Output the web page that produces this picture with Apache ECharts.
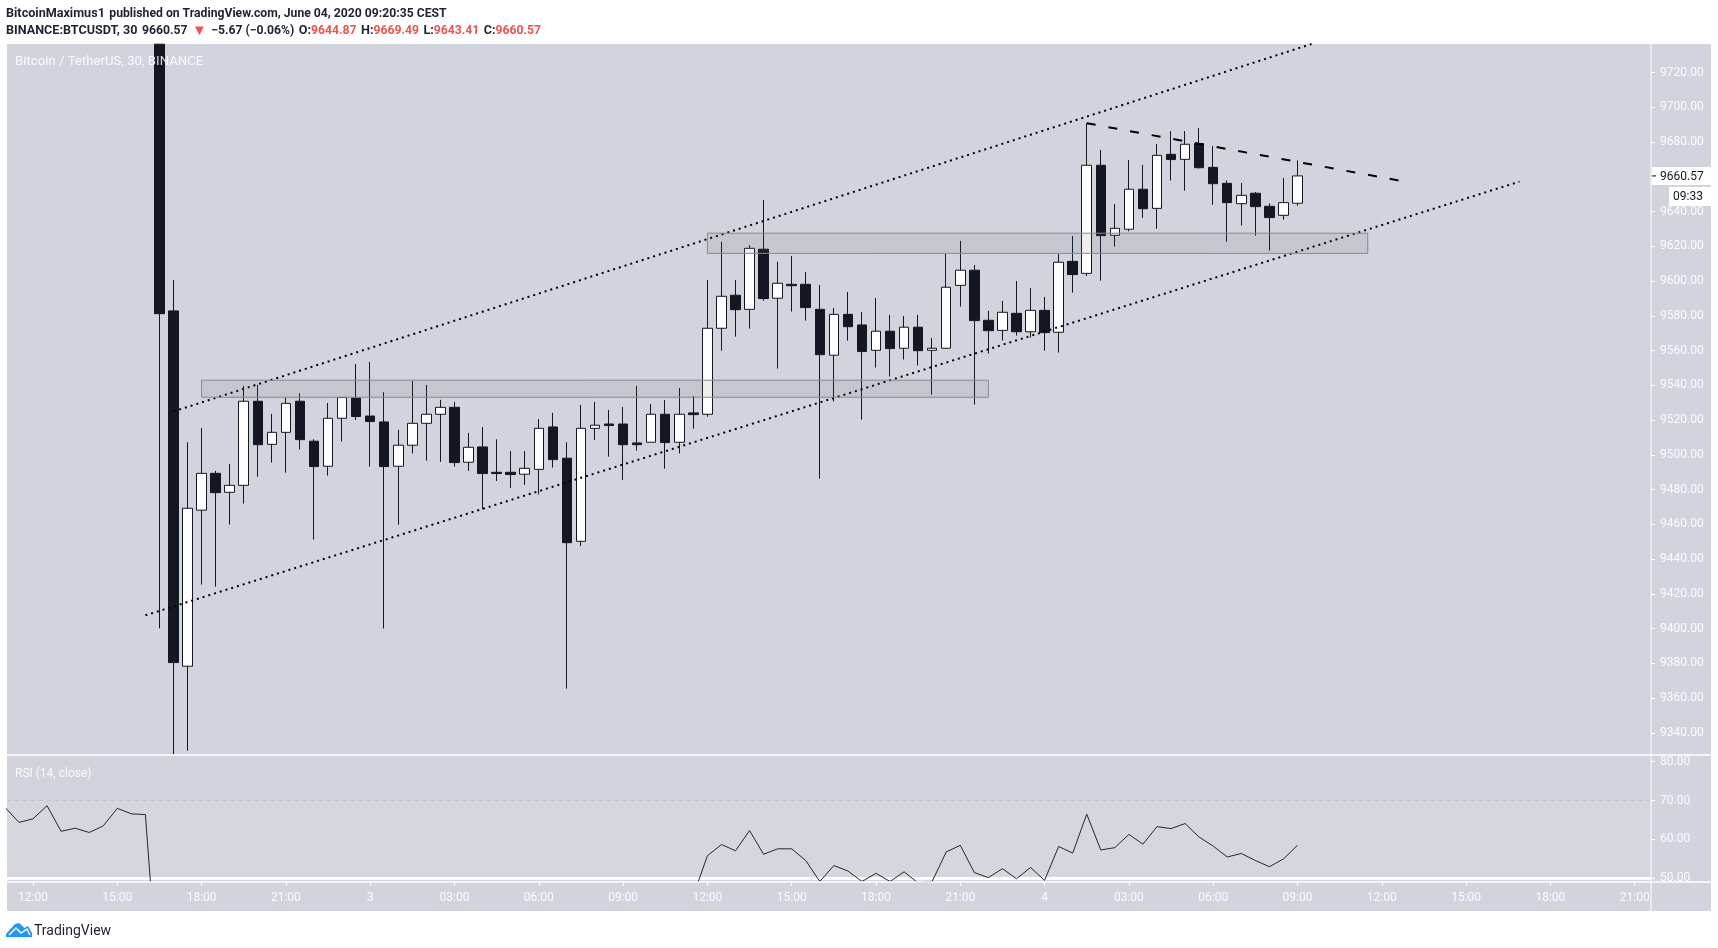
<!DOCTYPE html>
<html>
<head>
<meta charset="utf-8">
<style>
  html, body { margin: 0; padding: 0; background: #fff; }
  #main { width: 1718px; height: 948px; }
</style>
<script src="https://cdn.jsdelivr.net/npm/echarts@6/dist/echarts.min.js"></script>
</head>
<body>
<div id="main"></div>
<script>
// bars are counted in 30 min steps from Jun 2 12:00 (bar 0)
var firstCandleBar = 9;
// first candle runs off the top of the pane, second one off the bottom
var opens = [9736.4, 9582.9, 9378.4, 9468.2, 9489.4, 9478.5, 9482.5, 9530.9, 9506.1, 9513.0, 9530.9, 9507.9, 9493.5, 9521.1, 9532.8, 9522.4, 9519.0, 9493.5, 9505.6, 9518.2, 9523.4, 9527.4, 9495.8, 9504.6, 9490.0, 9490.0, 9488.9, 9491.7, 9516.1, 9498.1, 9450.3, 9515.3, 9517.8, 9517.8, 9506.9, 9507.3, 9523.4, 9507.3, 9524.2, 9523.4, 9572.9, 9591.9, 9583.8, 9618.4, 9590.2, 9598.2, 9598.2, 9583.8, 9557.4, 9580.9, 9574.8, 9560.2, 9571.2, 9561.4, 9573.5, 9560.2, 9561.4, 9597.6, 9606.3, 9577.5, 9571.7, 9581.5, 9570.9, 9583.2, 9570.6, 9611.4, 9604.5, 9666.7, 9626.4, 9629.9, 9652.9, 9641.9, 9673.0, 9670.1, 9679.2, 9665.5, 9656.3, 9644.6, 9650.6, 9643.1, 9637.9, 9644.87];
var closes = [9581.3, 9380.5, 9469.3, 9489.4, 9478.3, 9482.5, 9530.9, 9505.9, 9513.0, 9529.7, 9508.8, 9493.3, 9521.1, 9533.0, 9522.1, 9519.2, 9493.3, 9505.6, 9518.2, 9523.4, 9527.4, 9495.6, 9504.4, 9489.3, 9489.3, 9488.7, 9492.3, 9515.3, 9497.3, 9449.5, 9515.3, 9517.1, 9516.9, 9505.9, 9505.9, 9523.4, 9507.1, 9523.4, 9523.2, 9572.9, 9591.3, 9583.6, 9618.9, 9590.0, 9598.8, 9597.4, 9584.8, 9557.7, 9580.9, 9573.8, 9559.5, 9571.2, 9561.2, 9573.5, 9560.0, 9561.4, 9596.5, 9606.3, 9577.3, 9571.5, 9582.1, 9570.9, 9583.2, 9570.4, 9610.9, 9603.8, 9666.7, 9626.2, 9630.4, 9652.9, 9641.7, 9672.4, 9670.0, 9678.8, 9665.3, 9656.1, 9645.2, 9649.4, 9642.9, 9636.6, 9645.2, 9660.57];
var lows = [9400.2, 9327.6, 9329.8, 9425.4, 9424.2, 9459.9, 9472.0, 9487.5, 9495.6, 9489.8, 9503.1, 9451.3, 9488.1, 9507.7, 9520.1, 9493.3, 9400.1, 9459.9, 9500.8, 9496.7, 9496.0, 9493.3, 9490.8, 9468.7, 9485.0, 9481.0, 9482.7, 9477.2, 9492.7, 9365.5, 9447.6, 9508.6, 9499.0, 9485.6, 9502.5, 9507.3, 9492.1, 9500.8, 9515.1, 9522.0, 9560.0, 9568.1, 9572.7, 9588.8, 9549.7, 9582.5, 9577.3, 9486.4, 9530.7, 9565.8, 9520.3, 9550.3, 9545.1, 9554.9, 9551.4, 9534.7, 9561.2, 9585.4, 9529.0, 9558.3, 9565.8, 9568.7, 9567.5, 9560.0, 9558.9, 9593.4, 9603.0, 9600.3, 9619.9, 9628.7, 9636.4, 9630.2, 9657.9, 9652.1, 9664.8, 9644.0, 9622.7, 9632.0, 9626.2, 9617.6, 9635.4, 9643.41];
var highs = [9736.4, 9600.7, 9507.3, 9515.5, 9490.8, 9494.8, 9539.7, 9540.3, 9523.6, 9533.2, 9535.5, 9509.0, 9529.9, 9533.2, 9552.4, 9553.5, 9536.1, 9514.4, 9542.6, 9540.3, 9531.7, 9530.5, 9512.7, 9516.1, 9509.0, 9502.3, 9502.3, 9520.7, 9524.2, 9507.3, 9528.8, 9530.5, 9525.9, 9527.6, 9539.7, 9529.3, 9531.6, 9538.5, 9533.9, 9600.7, 9622.6, 9600.7, 9620.7, 9646.7, 9611.1, 9614.5, 9605.3, 9597.8, 9584.6, 9593.8, 9582.3, 9590.3, 9580.6, 9580.0, 9580.6, 9567.3, 9615.7, 9623.2, 9609.3, 9582.9, 9588.6, 9600.1, 9596.1, 9590.9, 9615.7, 9626.0, 9690.9, 9675.5, 9644.4, 9669.8, 9666.9, 9679.0, 9686.4, 9686.4, 9688.2, 9677.8, 9658.0, 9656.5, 9651.3, 9644.8, 9659.4, 9669.49];

var firstRsiBar = -2;
// null where the line is below the bottom of the pane and cannot be read
var rsiValues = [68.3, 64.4, 65.3, 68.7, 62.1, 62.9, 61.8, 63.5, 68.0, 66.6, 66.4, 18,
  null, null, null, null, null, null, null, null, null, null, null, null, null, null, null, null, null, null, null,
  null, null, null, null, null, null, null, null, null, null, null, null, null, null, null, null, null, null,
  45.6, 55.8, 58.7, 57.1, 62.3, 56.2, 57.6, 57.6, 54.6, 49.2, 53.3, 51.9, 49.2, 51.3, 49.2, 51.7, 48.8, 49.25, 56.8, 58.5, 51.5, 50.2, 52.5, 49.9, 52.8, 49.5, 58.2, 56.5, 66.5, 57.3, 57.9, 61.3, 58.8, 63.3, 62.8, 64.1, 60.6, 58.3, 55.5, 56.4, 54.6, 53.0, 55.0, 58.5];

var timeTickBars = [0, 6, 12, 18, 24, 30, 36, 42, 48, 54, 60, 66, 72, 78, 84, 90, 96, 102, 108, 114];
var timeTickLabels = ['12:00', '15:00', '18:00', '21:00', '3', '03:00', '06:00', '09:00', '12:00', '15:00', '18:00', '21:00', '4', '03:00', '06:00', '09:00', '12:00', '15:00', '18:00', '21:00'];
var priceTicks = [9340, 9360, 9380, 9400, 9420, 9440, 9460, 9480, 9500, 9520, 9540, 9560, 9580, 9600, 9620, 9640, 9660, 9680, 9700, 9720];
var rsiTicks = [50, 60, 70, 80];

// trend lines and zones drawn on the chart
var upperChannelBars = [10, 91];
var upperChannelPrices = [9525, 9736.5];
var lowerChannelBars = [8, 105.8];
var lowerChannelPrices = [9407.7, 9657.3];
var resistanceBars = [75, 97.25];
var resistancePrices = [9690.9, 9657.9];
var lowerZoneBars = [12, 68];
var lowerZonePrices = [9533.2, 9543];
var upperZoneBars = [48, 95];
var upperZonePrices = [9616, 9627.6];

var lastPrice = 9660.57;
var countdown = '09:33';

var DARK = '#131722';
var PANE = '#d1d4dc';
var AXIS_TEXT = '#fbfbfd';
var FONT = 'Roboto, "Liberation Sans", Arial, sans-serif';

function pairs(xs, ys) {
  return xs.map(function (x, i) { return [x, ys[i]]; });
}

var candleData = opens.map(function (o, i) {
  return [firstCandleBar + i, o, closes[i], lows[i], highs[i]];
});
var rsiData = rsiValues.map(function (v, i) {
  return [firstRsiBar + i, v];
});

function trendLine(bars, prices, width, dash) {
  return {
    type: 'line',
    xAxisIndex: 0,
    yAxisIndex: 0,
    data: pairs(bars, prices),
    showSymbol: false,
    silent: true,
    z: 6,
    lineStyle: { color: '#000', width: width, type: dash }
  };
}

function zoneArea(bars, prices) {
  return [{ xAxis: bars[0], yAxis: prices[0] }, { xAxis: bars[1], yAxis: prices[1] }];
}

var xAxisBase = {
  type: 'value',
  min: -1.85,
  max: 115.16,
  splitLine: { show: false }
};

var headerRich = {
  b: { fontFamily: FONT, fontWeight: 'bold', fontSize: 12.6, color: '#1d2330' },
  n: { fontFamily: FONT, fontSize: 12.2, color: '#1d2330' },
  r: { fontFamily: FONT, fontSize: 12.2, color: '#ef5350' },
  t: { fontFamily: FONT, fontSize: 15, color: '#ef5350' }
};

var option = {
  animation: false,
  textStyle: { fontFamily: FONT },
  title: [
    {
      left: 6, top: 5, padding: 0, itemGap: 0,
      text: '{b|BitcoinMaximus1} {n|published on TradingView.com, June 04, 2020 09:20:35 CEST}',
      textStyle: { rich: headerRich }
    },
    {
      left: 6, top: 22, padding: 0, itemGap: 0,
      text: '{b|BINANCE:BTCUSDT, 30} {n|9660.57} {t|▼} {n|−5.67 (−0.06%)} {b|O:}{r|9644.87} {b|H:}{r|9669.49} {b|L:}{r|9643.41} {b|C:}{r|9660.57}',
      textStyle: { rich: headerRich }
    }
  ],
  grid: [
    { left: 7, top: 44, width: 1644, height: 711 },
    { left: 7, top: 755, width: 1644, height: 127 }
  ],
  xAxis: [
    Object.assign({}, xAxisBase, {
      gridIndex: 0,
      axisLine: { show: false, onZero: false },
      axisTick: { show: false },
      axisLabel: { show: false }
    }),
    Object.assign({}, xAxisBase, {
      gridIndex: 1,
      position: 'bottom',
      axisLine: { show: false, onZero: false },
      axisTick: { show: true, length: 4, customValues: timeTickBars, lineStyle: { color: '#fff', width: 1 } },
      axisLabel: {
        show: true,
        customValues: timeTickBars,
        margin: 10,
        color: AXIS_TEXT,
        fontFamily: FONT,
        fontSize: 12,
        hideOverlap: false,
        formatter: function (v) {
          return timeTickLabels[timeTickBars.indexOf(v)];
        }
      }
    })
  ],
  yAxis: [
    {
      type: 'value',
      gridIndex: 0,
      position: 'right',
      min: 9327.3,
      max: 9736.5,
      splitLine: { show: false },
      axisLine: { show: false, onZero: false },
      axisTick: { show: true, length: 4, customValues: priceTicks, lineStyle: { color: '#fff', width: 1 } },
      axisLabel: {
        customValues: priceTicks,
        margin: 9,
        padding: [2, 0, 0, 0],
        color: AXIS_TEXT,
        fontFamily: FONT,
        fontSize: 12,
        formatter: function (v) { return v.toFixed(2); }
      }
    },
    {
      type: 'value',
      gridIndex: 1,
      position: 'right',
      min: 49.07,
      max: 81.72,
      splitLine: { show: false },
      axisLine: { show: false, onZero: false },
      axisTick: { show: true, length: 4, customValues: rsiTicks, lineStyle: { color: '#fff', width: 1 } },
      axisLabel: {
        customValues: rsiTicks,
        margin: 9,
        padding: [2, 0, 0, 0],
        color: AXIS_TEXT,
        fontFamily: FONT,
        fontSize: 12,
        formatter: function (v) { return v.toFixed(2); }
      }
    }
  ],
  series: [
    {
      type: 'candlestick',
      xAxisIndex: 0,
      yAxisIndex: 0,
      data: candleData,
      barWidth: 10,
      itemStyle: {
        color: '#fff',
        color0: DARK,
        borderColor: DARK,
        borderColor0: DARK,
        borderWidth: 1
      }
    },
    trendLine(upperChannelBars, upperChannelPrices, 2, [2, 4]),
    trendLine(lowerChannelBars, lowerChannelPrices, 2, [2, 4]),
    trendLine(resistanceBars, resistancePrices, 2, [9, 13]),
    {
      // grey zones, over the candles
      type: 'line',
      xAxisIndex: 0,
      yAxisIndex: 0,
      data: [],
      silent: true,
      markArea: {
        silent: true,
        z: 8,
        itemStyle: { color: 'rgba(100,100,110,0.11)', borderColor: '#868993', borderWidth: 1 },
        data: [zoneArea(lowerZoneBars, lowerZonePrices), zoneArea(upperZoneBars, upperZonePrices)]
      }
    },
    {
      type: 'line',
      xAxisIndex: 1,
      yAxisIndex: 1,
      data: rsiData,
      showSymbol: false,
      connectNulls: false,
      clip: true,
      silent: true,
      z: 6,
      lineStyle: { color: '#23262f', width: 1 },
      markArea: {
        silent: true,
        itemStyle: { color: 'rgba(255,255,255,0.07)' },
        data: [[{ yAxis: 70 }, { yAxis: 49.07 }]]
      },
      markLine: {
        silent: true,
        symbol: 'none',
        label: { show: false },
        data: [
          { yAxis: 70, lineStyle: { color: '#c4c5c2', type: [4, 4], width: 1 } },
          { yAxis: 50, lineStyle: { color: '#fff', type: 'solid', width: 3 } }
        ]
      }
    }
  ],
  graphic: [
    // pane background, behind everything
    { type: 'rect', z: -1, silent: true, shape: { x: 7, y: 44, width: 1704, height: 867 }, style: { fill: PANE } },
    { type: 'line', z: 50, silent: true, shape: { x1: 7, y1: 755, x2: 1711, y2: 755 }, style: { stroke: '#fff', lineWidth: 1.5 } },
    { type: 'rect', z: 50, silent: true, shape: { x: 1652, y: 883, width: 59, height: 10 }, style: { fill: PANE } },
    { type: 'line', z: 50, silent: true, shape: { x1: 7, y1: 882, x2: 1711, y2: 882 }, style: { stroke: '#fff', lineWidth: 1.5 } },
    { type: 'line', z: 50, silent: true, shape: { x1: 1651, y1: 44, x2: 1651, y2: 911 }, style: { stroke: '#fff', lineWidth: 1 } },
    { type: 'text', z: 60, silent: true, x: 15, y: 62, style: { text: 'Bitcoin / TetherUS, 30, BINANCE', fill: 'rgba(255,255,255,0.85)', font: '13.2px ' + FONT, textVerticalAlign: 'middle' } },
    { type: 'text', z: 60, silent: true, x: 15, y: 773.5, style: { text: 'RSI (14, close)', fill: 'rgba(255,255,255,0.85)', font: '12px ' + FONT, textVerticalAlign: 'middle' } },
    // logo
    { type: 'polygon', z: 60, silent: true, shape: { points: [[6, 934], [15, 924], [19, 923], [24.5, 928], [28, 926], [32, 933], [32, 937], [6, 937]] }, style: { fill: '#2196f3' } },
    { type: 'polyline', z: 61, silent: true, shape: { points: [[9, 935], [16, 928], [21, 933], [27, 929], [30, 935]] }, style: { stroke: '#fff', lineWidth: 1.5, fill: 'none' } },
    { type: 'text', z: 60, silent: true, x: 34, y: 931, style: { text: 'TradingView', fill: '#1d2330', font: '14px ' + FONT, textVerticalAlign: 'middle' } }
  ]
};

var chart = echarts.init(document.getElementById('main'));
chart.setOption(option);

// last price tag follows the price axis
var tagY = chart.convertToPixel({ yAxisIndex: 0 }, lastPrice);
chart.setOption({
  graphic: option.graphic.concat([
    { type: 'rect', z: 70, silent: true, shape: { x: 1652, y: tagY - 9, width: 59, height: 18 }, style: { fill: '#fff' } },
    { type: 'line', z: 71, silent: true, shape: { x1: 1652, y1: tagY, x2: 1656, y2: tagY }, style: { stroke: '#000', lineWidth: 1 } },
    { type: 'text', z: 71, silent: true, x: 1660, y: tagY + 1, style: { text: lastPrice.toFixed(2), fill: '#131722', font: '12px ' + FONT, textVerticalAlign: 'middle' } },
    { type: 'rect', z: 70, silent: true, shape: { x: 1669, y: tagY + 11, width: 42, height: 19 }, style: { fill: '#fff' } },
    { type: 'text', z: 71, silent: true, x: 1673, y: tagY + 21.5, style: { text: countdown, fill: '#131722', font: '12px ' + FONT, textVerticalAlign: 'middle' } }
  ])
});
</script>
</body>
</html>
